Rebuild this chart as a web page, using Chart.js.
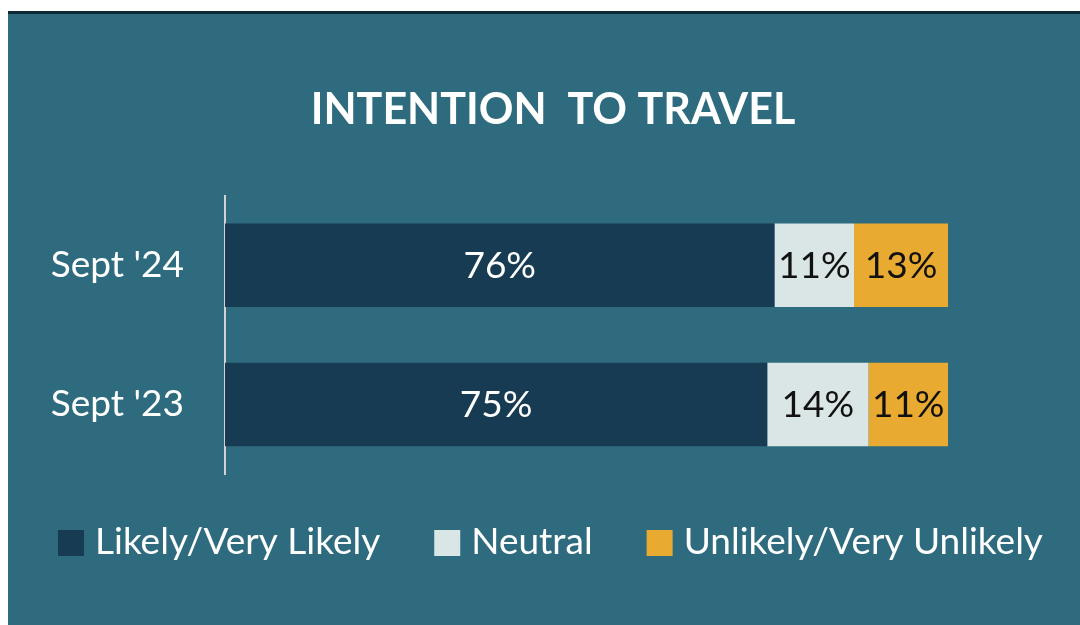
<!DOCTYPE html>
<html>
<head>
<meta charset="utf-8">
<title>Intention to Travel</title>
<script src="https://cdn.jsdelivr.net/npm/chart.js@4.4.1/dist/chart.umd.min.js"></script>
<style>
    html, body { margin: 0; padding: 0; background: #ffffff; }
    #panel {
        position: absolute;
        left: 8px;
        top: 11px;
        width: 1072px;
        height: 611px;
        background: #2E6B7E;
        border-top: 3px solid #0E2834;
    }
    #travelChart { display: block; }
</style>
</head>
<body>
<div id="panel">
    <canvas id="travelChart" width="1072" height="611"></canvas>
</div>
<script>
// --- DATA ---
const periods = ["Sept '24", "Sept '23"];
const seriesNames = ['Likely/Very Likely', 'Neutral', 'Unlikely/Very Unlikely'];
const likely = [76, 75];
const neutral = [11, 14];
const unlikely = [13, 11];
const seriesColors = ['#173B53', '#DAE6E6', '#E8AA30'];
const labelColors = ['#ffffff', '#111111', '#111111'];

const FONT = "Lato, 'Open Sans', sans-serif";

// --- Plugin: write the percentage inside each bar segment ---
const segmentLabels = {
    id: 'segmentLabels',
    afterDatasetsDraw: (chart) => {
        const ctx = chart.ctx;
        ctx.save();
        ctx.font = `37px ${FONT}`;
        ctx.textAlign = 'center';
        ctx.textBaseline = 'middle';
        chart.data.datasets.forEach((ds, di) => {
            const meta = chart.getDatasetMeta(di);
            meta.data.forEach((bar, i) => {
                const cx = (bar.x + bar.base) / 2;
                ctx.fillStyle = labelColors[di];
                ctx.fillText(ds.data[i] + '%', cx, bar.y + 1);
            });
        });
        ctx.restore();
    }
};

// --- Plugin: one-row legend under the bars (built-in one wraps at this size) ---
const rowLegend = {
    id: 'rowLegend',
    afterDraw: (chart) => {
        const ctx = chart.ctx;
        const box = 26, gap = 11, spacing = 54;
        let x = 50;
        const y = 529;
        ctx.save();
        ctx.font = `37px ${FONT}`;
        ctx.textBaseline = 'middle';
        ctx.textAlign = 'left';
        chart.data.datasets.forEach((ds) => {
            ctx.fillStyle = ds.backgroundColor;
            ctx.fillRect(x, y - box / 2, box, box);
            ctx.fillStyle = '#ffffff';
            ctx.fillText(ds.label, x + box + gap, y - 1);
            x += box + gap + ctx.measureText(ds.label).width + spacing;
        });
        ctx.restore();
    }
};

const ctx = document.getElementById('travelChart').getContext('2d');
new Chart(ctx, {
    type: 'bar',
    data: {
        labels: periods,
        datasets: [likely, neutral, unlikely].map((values, i) => ({
            label: seriesNames[i],
            data: values,
            backgroundColor: seriesColors[i],
            borderWidth: 0,
            barPercentage: 1,
            categoryPercentage: 0.6
        }))
    },
    options: {
        indexAxis: 'y',
        responsive: false,
        animation: false,
        layout: { padding: { left: 30, right: 12, top: 0, bottom: 151 } },
        scales: {
            x: {
                stacked: true,
                min: 0,
                max: 100,
                display: false
            },
            y: {
                stacked: true,
                grid: { display: false },
                border: { display: true, color: '#D3D3D3', width: 2 },
                ticks: {
                    color: '#ffffff',
                    padding: 33,
                    font: { family: FONT, size: 37 }
                },
                afterFit: (scale) => { scale.width = 187; }
            },
            // empty space on the right so the bars stop where the original's do
            yRight: {
                position: 'right',
                grid: { display: false },
                border: { display: false },
                ticks: { display: false },
                afterFit: (scale) => { scale.width = 120; }
            }
        },
        plugins: {
            title: {
                display: true,
                text: 'INTENTION  TO TRAVEL',
                color: '#ffffff',
                font: { family: FONT, size: 43, weight: 'bold' },
                padding: { top: 70, bottom: 60 }
            },
            legend: { display: false },
            tooltip: { enabled: false }
        }
    },
    plugins: [segmentLabels, rowLegend]
});
</script>
</body>
</html>
